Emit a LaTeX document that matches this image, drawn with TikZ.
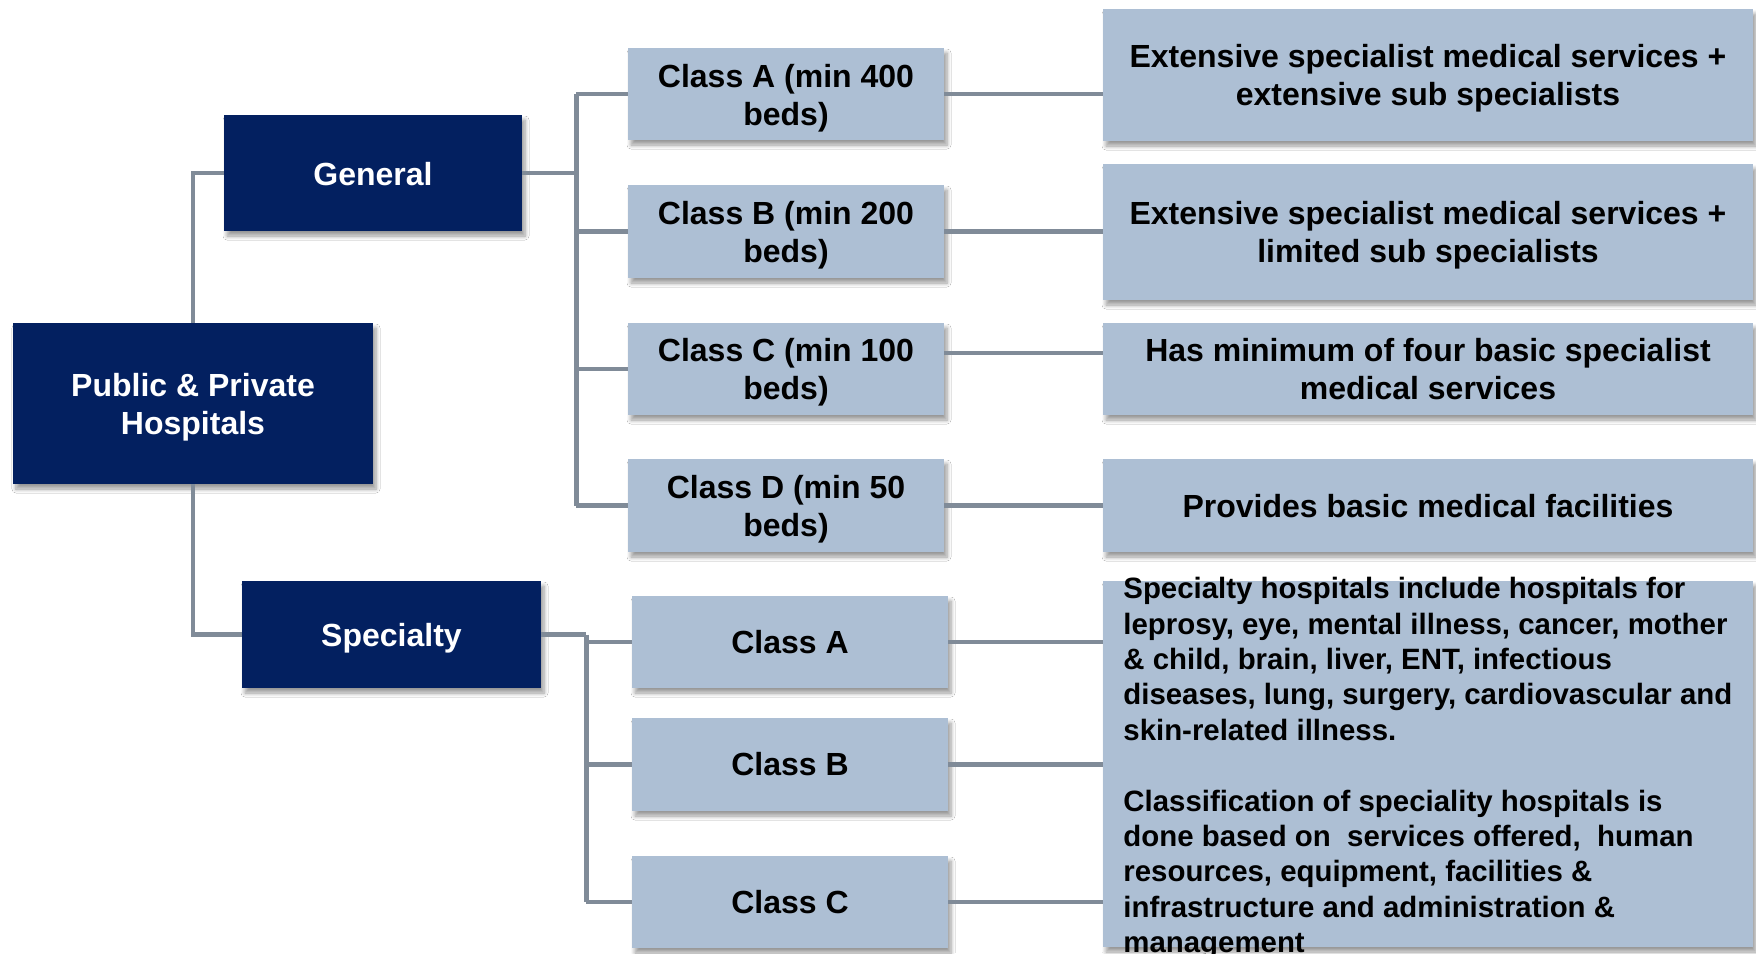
\documentclass[tikz,border=0pt]{standalone}
\usepackage{fontspec}
\setmainfont{Liberation Sans}
\usetikzlibrary{shadows.blur}
\definecolor{navy}{RGB}{3,32,96}
\definecolor{lightbox}{RGB}{173,191,212}
\definecolor{connc}{RGB}{128,139,152}
\newcommand{\lowerby}[2]{\raisebox{-#1}[\height][\depth]{#2}}
\begin{document}
\begin{tikzpicture}[x=0.5pt,y=-0.5pt,
  box/.style={rectangle, inner sep=0pt, align=center,
    font=\bfseries\fontsize{16}{19}\selectfont,
    blur shadow={shadow xshift=1.5pt, shadow yshift=-2.5pt, shadow blur steps=6, shadow opacity=40, shadow blur radius=2pt}},
  dark/.style={box, fill=navy, text=white},
  light/.style={box, fill=lightbox, text=black},
  connector/.style={draw=connc, line width=2.4pt},
]
\useasboundingbox[fill=white] (0,0) rectangle (1756,953);

% level 0 and 1
\node[dark, minimum width=180pt, minimum height=80.5pt] (root) at (193,403.5) {\lowerby{2pt}{Public \& Private}\\\lowerby{2pt}{Hospitals}};
\node[dark, minimum width=149pt, minimum height=58pt] (gen) at (373,173) {\lowerby{0.5pt}{General}};
\node[dark, minimum width=149.5pt, minimum height=53.5pt] (spec) at (391.5,634.5) {\lowerby{2pt}{Specialty}};

% general classes
\node[light, minimum width=158pt, minimum height=46pt] (ca) at (786,94) {\lowerby{2pt}{Class A (min 400}\\\lowerby{2pt}{beds)}};
\node[light, minimum width=158pt, minimum height=46.5pt] (cb) at (786,231.5) {\lowerby{2pt}{Class B (min 200}\\\lowerby{2pt}{beds)}};
\node[light, minimum width=158pt, minimum height=46pt] (cc) at (786,369) {\lowerby{1.5pt}{Class C (min 100}\\\lowerby{1.5pt}{beds)}};
\node[light, minimum width=158pt, minimum height=46.5pt] (cd) at (786,505.5) {\lowerby{2pt}{Class D (min 50}\\\lowerby{2pt}{beds)}};

% specialty classes
\node[light, minimum width=158pt, minimum height=46pt] (sa) at (790,642) {Class A};
\node[light, minimum width=158pt, minimum height=46.5pt] (sb) at (790,764.5) {Class B};
\node[light, minimum width=158pt, minimum height=46pt] (sc) at (790,902) {Class C};

% descriptions
\node[light, minimum width=325pt, minimum height=66pt] (r1) at (1428,75) {\lowerby{1.8pt}{Extensive specialist medical services +}\\\lowerby{1.8pt}{extensive sub specialists}};
\node[light, minimum width=325pt, minimum height=68pt] (r2) at (1428,232) {\lowerby{1.8pt}{Extensive specialist medical services +}\\\lowerby{1.8pt}{limited sub specialists}};
\node[light, minimum width=325pt, minimum height=46pt] (r3) at (1428,369) {Has minimum of four basic specialist\\medical services};
\node[light, minimum width=325pt, minimum height=46.5pt] (r4) at (1428,505.5) {\lowerby{0.5pt}{Provides basic medical facilities}};
\node[light, minimum width=325pt, minimum height=183pt] (r5) at (1428,764) {};
\node[anchor=north west, inner sep=0pt, align=left, text=black,
  font=\bfseries\fontsize{14.7}{17.7}\selectfont] (r5text) at (1123,577)
  {Specialty hospitals include hospitals for\\
   leprosy, eye, mental illness, cancer, mother\\
   \& child, brain, liver, ENT, infectious\\
   diseases, lung, surgery, cardiovascular and\\
   skin-related illness.\\[17.7pt]
   Classification of speciality hospitals is\\
   done based on\ \ services offered,\ \ human\\
   resources, equipment, facilities \&\\
   infrastructure and administration \&\\
   management};

% root connectors
\draw[connector] (gen.west) -| (root.north);
\draw[connector] (root.south) |- (spec.west);

% general bus
\draw[connector] (gen.east) -- ++(54,0) coordinate (gbus);
\draw[connector] (gbus |- ca.west) -- (gbus |- cd.west);
\foreach \n in {ca,cb,cc,cd} \draw[connector] (gbus |- \n.west) -- (\n.west);

% specialty bus
\draw[connector] (spec.east) -- ++(45,0) coordinate (sbus);
\draw[connector] (sbus) -- (sbus |- sc.west);
\foreach \n in {sa,sb,sc} \draw[connector] (sbus |- \n.west) -- (\n.west);

% right connectors
\draw[connector] (ca.east) -- (ca.east -| r1.west);
\draw[connector] (cb.east) -- (cb.east -| r2.west);
\draw[connector] ([yshift=8pt]cc.east) -- ([yshift=8pt]cc.east -| r3.west);
\draw[connector] (cd.east) -- (cd.east -| r4.west);
\foreach \n in {sa,sb,sc} \draw[connector] (\n.east) -- (\n.east -| r5.west);
\end{tikzpicture}
\end{document}
